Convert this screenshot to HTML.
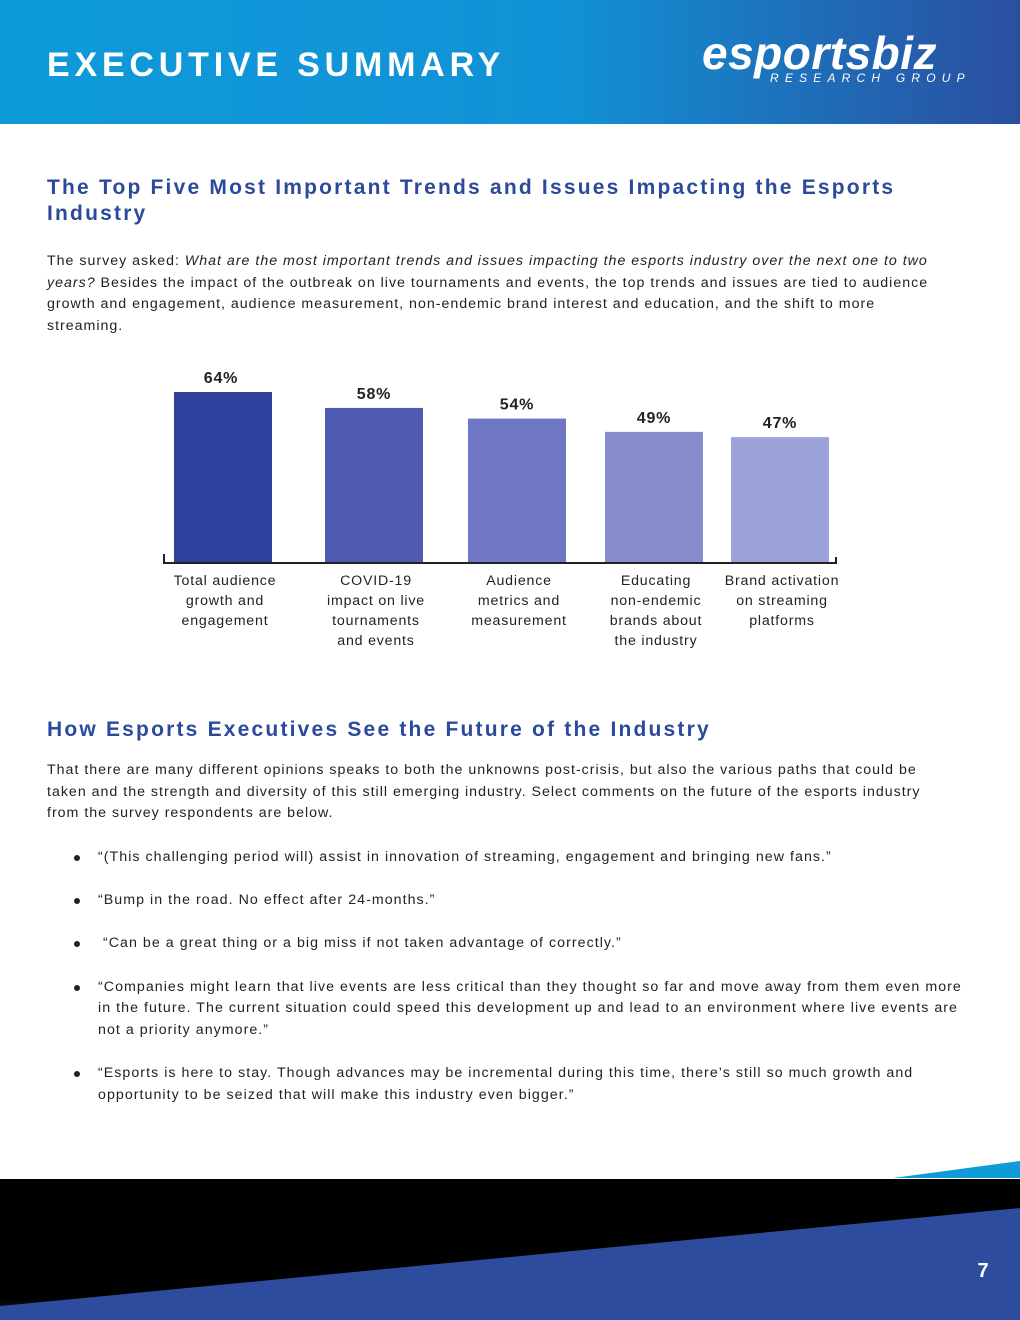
<!DOCTYPE html>
<html><head><meta charset="utf-8">
<style>
*{margin:0;padding:0;box-sizing:border-box}
body{width:1020px;height:1320px;position:relative;background:#fff;font-family:"Liberation Sans",sans-serif;overflow:hidden;color:#222}
.header{position:absolute;left:0;top:0;width:1020px;height:124px;background:linear-gradient(90deg,#0e9ad9 0%,#1192d6 55%,#2a4f9f 100%)}
.title{position:absolute;left:47px;top:46px;color:#fff;font-size:34px;font-weight:bold;letter-spacing:4.8px}
.logo{position:absolute;left:702px;top:30px;color:#fff;font-size:46px;font-weight:bold;font-style:italic;letter-spacing:0.5px;line-height:46px}
.logo-sub{position:absolute;left:770px;top:71px;color:#fff;font-size:12px;font-style:italic;letter-spacing:6.2px}
h2{position:absolute;left:47px;color:#2b4a9c;font-size:21px;font-weight:bold;letter-spacing:2.2px;line-height:26px;width:880px}
p.body{position:absolute;left:47px;width:900px;font-size:14.2px;line-height:21.7px;letter-spacing:1px;color:#222}
ul{position:absolute;left:70px;width:892px;list-style:none;font-size:14.2px;line-height:21.7px;letter-spacing:1.05px}
li{position:relative;padding-left:28px;margin-bottom:21.5px}
li::before{content:"";position:absolute;left:4px;top:8px;width:6px;height:6px;border-radius:50%;background:#222}
svg text{font-family:"Liberation Sans",sans-serif}
</style></head><body>
<div class="header">
<div class="title">EXECUTIVE SUMMARY</div>
<div class="logo">esportsbiz</div>
<div class="logo-sub">RESEARCH GROUP</div>
</div>
<h2 style="top:175px">The Top Five Most Important Trends and Issues Impacting the Esports Industry</h2>
<p class="body" style="top:251px">The survey asked: <i>What are the most important trends and issues impacting the esports industry over the next one to two years?</i> Besides the impact of the outbreak on live tournaments and events, the top trends and issues are tied to audience growth and engagement, audience measurement, non-endemic brand interest and education, and the shift to more streaming.</p>
<svg id="chart" style="position:absolute;left:0;top:0" width="1020" height="680"></svg>
<h2 style="top:717px">How Esports Executives See the Future of the Industry</h2>
<p class="body" style="top:760px">That there are many different opinions speaks to both the unknowns post-crisis, but also the various paths that could be taken and the strength and diversity of this still emerging industry. Select comments on the future of the esports industry from the survey respondents are below.</p>
<ul style="top:847px">
<li>“(This challenging period will) assist in innovation of streaming, engagement and bringing new fans.”</li>
<li>“Bump in the road. No effect after 24-months.”</li>
<li>&nbsp;“Can be a great thing or a big miss if not taken advantage of correctly.”</li>
<li>“Companies might learn that live events are less critical than they thought so far and move away from them even more in the future. The current situation could speed this development up and lead to an environment where live events are not a priority anymore.”</li>
<li>“Esports is here to stay. Though advances may be incremental during this time, there’s still so much growth and opportunity to be seized that will make this industry even bigger.”</li>
</ul>
<svg style="position:absolute;left:0;top:1150px" width="1020" height="170">
<defs><linearGradient id="fg" x1="0" y1="0" x2="0" y2="1"><stop offset="0.85" stop-color="#000"/><stop offset="1" stop-color="#222"/></linearGradient></defs>
<rect x="0" y="29" width="1020" height="141" fill="url(#fg)"/>
<polygon points="893,28 1020,11 1020,28" fill="#0f9ad8"/>
<polygon points="0,156 1020,58 1020,170 0,170" fill="#2d4c9d"/>
<text x="983" y="127" fill="#fff" font-size="20" font-weight="bold" text-anchor="middle">7</text>
</svg>
<script>
const categories=[["Total audience","growth and","engagement"],["COVID-19","impact on live","tournaments","and events"],["Audience","metrics and","measurement"],["Educating","non-endemic","brands about","the industry"],["Brand activation","on streaming","platforms"]];
const values=[64,58,54,49,47];
const valueLabels=["64%","58%","54%","49%","47%"];
const colors=["#2e3f9c","#4f5bb3","#7077c4","#878dcc","#9ba3d9"];
const barX=[174,325,468,605,731];
const barW=98, baseY=562, pxPer=170/64;
const y=v=>baseY-v*pxPer;
const svg=document.getElementById('chart');
const NS="http://www.w3.org/2000/svg";
function mk(t,a){const e=document.createElementNS(NS,t);for(const k in a)e.setAttribute(k,a[k]);svg.appendChild(e);return e;}
values.forEach((v,i)=>{
 const r=mk('rect',{x:barX[i],y:y(v),width:barW,height:baseY-y(v),fill:colors[i]});
 
 
 const t=mk('text',{x:barX[i]+barW/2-(i==0?2:0),y:y(v)-9,'text-anchor':'middle','font-size':'16','font-weight':'bold','letter-spacing':'0.8',fill:'#222'});
 t.textContent=valueLabels[i];
 
 
 categories[i].forEach((ln,j)=>{
  const c=mk('text',{x:barX[i]+barW/2+2,y:585+j*20,'text-anchor':'middle','font-size':'14.2','letter-spacing':'0.8',fill:'#222'});
  c.textContent=ln;
  
  
 });
});
const ax=mk('path',{d:'M164,554 V563 H836 V557',stroke:'#222','stroke-width':'2',fill:'none'});


</script>
</body></html>
